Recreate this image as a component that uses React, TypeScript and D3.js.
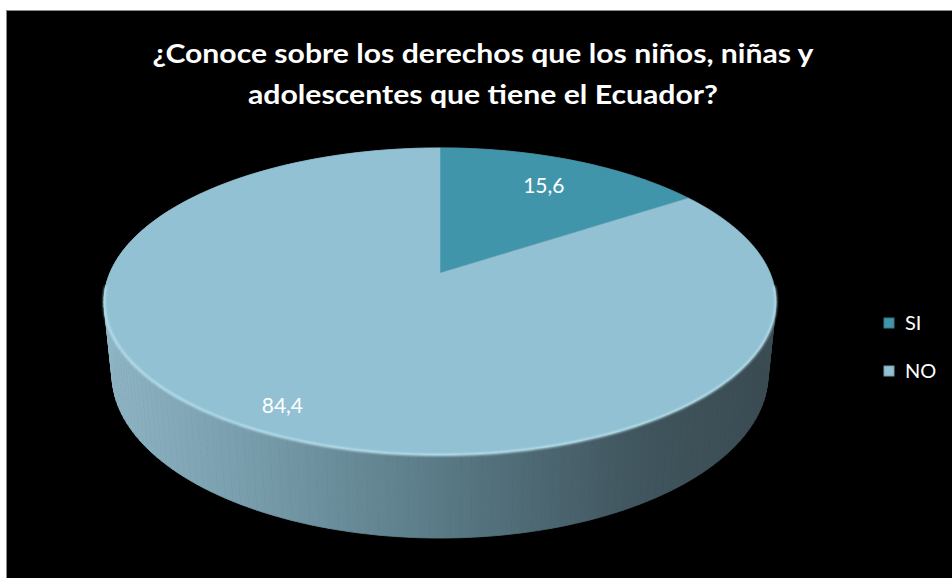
import { useEffect, useRef } from "react";
import * as d3 from "d3";

// Datos del gráfico
const categorias = ["SI", "NO"];
const valores = [15.6, 84.4];
const etiquetas = ["15,6", "84,4"];
const colores = ["#4195AB", "#92C1D3"];
const tituloLineas = [
  "¿Conoce sobre los derechos que los niños, niñas y",
  "adolescentes que tiene el Ecuador?",
];

const W = 952;
const H = 578;

const App = () => {
  const svgRef = useRef<SVGSVGElement | null>(null);

  useEffect(() => {
    if (!svgRef.current) return;
    const svg = d3.select(svgRef.current);
    svg.selectAll("*").remove();

    // Fondo negro con borde gris
    svg
      .append("rect")
      .attr("x", 6.5)
      .attr("y", 10.5)
      .attr("width", W)
      .attr("height", H)
      .attr("fill", "#000")
      .attr("stroke", "#8a8a8a")
      .attr("stroke-width", 1);

    // Título
    const anchos = [661, 470];
    const titulo = svg
      .append("g")
      .attr("font-family", "Lato, 'Noto Sans', sans-serif")
      .attr("font-weight", "700")
      .attr("font-size", 26)
      .attr("fill", "#fff")
      .attr("text-anchor", "middle");
    tituloLineas.forEach((linea, i) => {
      titulo
        .append("text")
        .attr("x", 483)
        .attr("y", 63 + i * 41)
        .attr("textLength", anchos[i])
        .attr("lengthAdjust", "spacingAndGlyphs")
        .text(linea);
    });

    // Proyección en perspectiva del cilindro
    const phi = (26.7 * Math.PI) / 180;
    const s = Math.sin(phi);
    const c = Math.cos(phi);
    const D = 4.813;
    const F = 1588.7;
    const cx = 440;
    const cy = 273;
    const altura = 0.25;

    const proyectar = (theta: number, r: number, y: number): [number, number] => {
      const X = r * Math.sin(theta);
      const Z = -r * Math.cos(theta);
      const prof = D - (y * s + Z * c);
      const up = y * c - Z * s;
      return [cx + (F * X) / prof, cy - (F * up) / prof];
    };

    const defs = svg.append("defs");
    const grad = defs
      .append("linearGradient")
      .attr("id", "lado")
      .attr("gradientUnits", "userSpaceOnUse")
      .attr("x1", 103)
      .attr("x2", 775)
      .attr("y1", 0)
      .attr("y2", 0);
    [
      [0, "#8FB6C6"],
      [0.3, "#6F93A1"],
      [0.55, "#557480"],
      [0.8, "#40555E"],
      [1, "#3A4B52"],
    ].forEach(([o, col]) => grad.append("stop").attr("offset", o as number).attr("stop-color", col as string));

    const blur = defs.append("filter").attr("id", "brillo").attr("x", "-5%").attr("y", "-5%").attr("width", "110%").attr("height", "110%");
    blur.append("feGaussianBlur").attr("stdDeviation", 0.8);

    // Lado del cilindro
    const N = 240;
    const lado = svg.append("g");
    for (let i = 0; i < N; i++) {
      const a0 = (i / N) * 2 * Math.PI;
      const a1 = ((i + 1) / N) * 2 * Math.PI;
      const pts = [
        proyectar(a0, 1, 0),
        proyectar(a1, 1, 0),
        proyectar(a1, 1, -altura),
        proyectar(a0, 1, -altura),
      ];
      lado
        .append("path")
        .attr("d", "M" + pts.map((p) => p.join(",")).join("L") + "Z")
        .attr("fill", "url(#lado)")
        .attr("stroke", "url(#lado)")
        .attr("stroke-width", 0.8);
    }

    // Cara superior
    const pie = d3
      .pie<number>()
      .value((d) => d)
      .sort(null)
      .startAngle(0)
      .endAngle(2 * Math.PI);
    const arcos = pie(valores);

    const trazoSector = (a0: number, a1: number) => {
      const pasos = Math.max(4, Math.ceil(((a1 - a0) / (2 * Math.PI)) * 360));
      const pts: [number, number][] = [proyectar(0, 0, 0)];
      for (let k = 0; k <= pasos; k++) {
        pts.push(proyectar(a0 + ((a1 - a0) * k) / pasos, 1, 0));
      }
      return "M" + pts.map((p) => p.join(",")).join("L") + "Z";
    };

    svg
      .append("g")
      .selectAll("path")
      .data(arcos)
      .enter()
      .append("path")
      .attr("d", (d) => trazoSector(d.startAngle, d.endAngle))
      .attr("fill", (d, i) => colores[i])
      .attr("stroke", (d, i) => colores[i])
      .attr("stroke-width", 0.5);

    // Brillo en el borde frontal
    const brillo = d3.line();
    const ptsBrillo: [number, number][] = [];
    for (let k = 0; k <= 120; k++) {
      const a = (95 + (170 * k) / 120) * (Math.PI / 180);
      ptsBrillo.push(proyectar(a, 1, 0));
    }
    svg
      .append("path")
      .attr("d", brillo(ptsBrillo))
      .attr("fill", "none")
      .attr("stroke", "#C9F0FA")
      .attr("stroke-width", 2)
      .attr("opacity", 0.85)
      .attr("filter", "url(#brillo)");

    // Etiquetas de datos
    const radioEtiqueta = [0.75, 0.87];
    svg
      .append("g")
      .selectAll("text")
      .data(arcos)
      .enter()
      .append("text")
      .attr("x", (d, i) => proyectar((d.startAngle + d.endAngle) / 2, radioEtiqueta[i], 0)[0])
      .attr("y", (d, i) => proyectar((d.startAngle + d.endAngle) / 2, radioEtiqueta[i], 0)[1])
      .attr("dy", "0.35em")
      .attr("text-anchor", "middle")
      .attr("font-family", "Lato, 'Noto Sans', sans-serif")
      .attr("font-size", 21)
      .attr("fill", "#fff")
      .text((d, i) => etiquetas[i]);

    // Leyenda
    const leyenda = svg.append("g").attr("transform", "translate(884, 318)");
    categorias.forEach((cat, i) => {
      const item = leyenda.append("g").attr("transform", `translate(0, ${i * 48})`);
      item
        .append("rect")
        .attr("width", 10)
        .attr("height", 10)
        .attr("fill", colores[i])
        .attr("stroke", d3.color(colores[i])!.darker(0.6).toString())
        .attr("stroke-width", 1);
      item
        .append("text")
        .attr("x", 21)
        .attr("y", 5)
        .attr("dy", "0.35em")
        .attr("font-family", "Lato, 'Noto Sans', sans-serif")
        .attr("font-size", 20)
        .attr("fill", "#fff")
        .text(cat);
    });
  }, []);

  return (
    <svg
      ref={svgRef}
      width={W}
      height={H}
      style={{ position: "absolute", left: 0, top: 0, display: "block" }}
    />
  );
};

export default App;
